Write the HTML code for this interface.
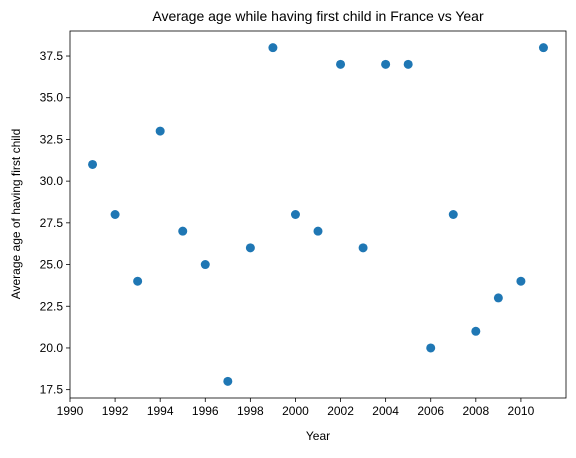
<!DOCTYPE html>
<html><head><meta charset="utf-8"><style>
body{margin:0;background:#fff;}
svg text{font-family:"Liberation Sans","DejaVu Sans",sans-serif;fill:#000;}
</style></head><body>
<svg id="chart" width="576" height="453" xmlns="http://www.w3.org/2000/svg">
<rect width="576" height="453" fill="#fff"/>
<text x="318" y="21" font-size="14" text-anchor="middle">Average age while having first child in France vs Year</text>
<g id="axes"></g>
<text x="318" y="440" font-size="12" text-anchor="middle">Year</text>
<text transform="translate(20,214) rotate(-90)" font-size="12" text-anchor="middle">Average age of having first child</text>
</svg>
<script>
const years=[1991,1992,1993,1994,1995,1996,1997,1998,1999,2000,2001,2002,2003,2004,2005,2006,2007,2008,2009,2010,2011];
const ages=[31,28,24,33,27,25,18,26,38,28,27,37,26,37,37,20,28,21,23,24,38];
const xTicks=[1990,1992,1994,1996,1998,2000,2002,2004,2006,2008,2010];
const yTicks=[17.5,20.0,22.5,25.0,27.5,30.0,32.5,35.0,37.5];
const L=70,R=566,T=31,B=398,x0=1990,x1=2012,y0=17,y1=39;
const sx=v=>L+(v-x0)/(x1-x0)*(R-L);
const sy=v=>B-(v-y0)/(y1-y0)*(B-T);
const NS="http://www.w3.org/2000/svg";
const g=document.getElementById('axes');
function mk(t,a){const e=document.createElementNS(NS,t);for(const k in a)e.setAttribute(k,a[k]);g.appendChild(e);return e;}
xTicks.forEach(v=>{
 const l=mk('line',{x1:sx(v),x2:sx(v),y1:B,y2:B+4,stroke:'#000','stroke-width':0.8});
 
 
 const t=mk('text',{x:sx(v),y:B+17,'font-size':12,'text-anchor':'middle'});t.textContent=v;
 
 
});
yTicks.forEach(v=>{
 const l=mk('line',{x1:L-4,x2:L,y1:sy(v),y2:sy(v),stroke:'#000','stroke-width':0.8});
 
 
 const t=mk('text',{x:L-7,y:sy(v)+4,'font-size':12,'text-anchor':'end'});t.textContent=v.toFixed(1);
 
 
});
years.forEach((y,i)=>{
 const c=mk('circle',{cx:sx(y),cy:sy(ages[i]),r:4.5,fill:'#1f77b4'});
 
 
});
const f=mk('rect',{x:L,y:T,width:R-L,height:B-T,fill:'none',stroke:'#000','stroke-width':0.8});


</script>
</body></html>
